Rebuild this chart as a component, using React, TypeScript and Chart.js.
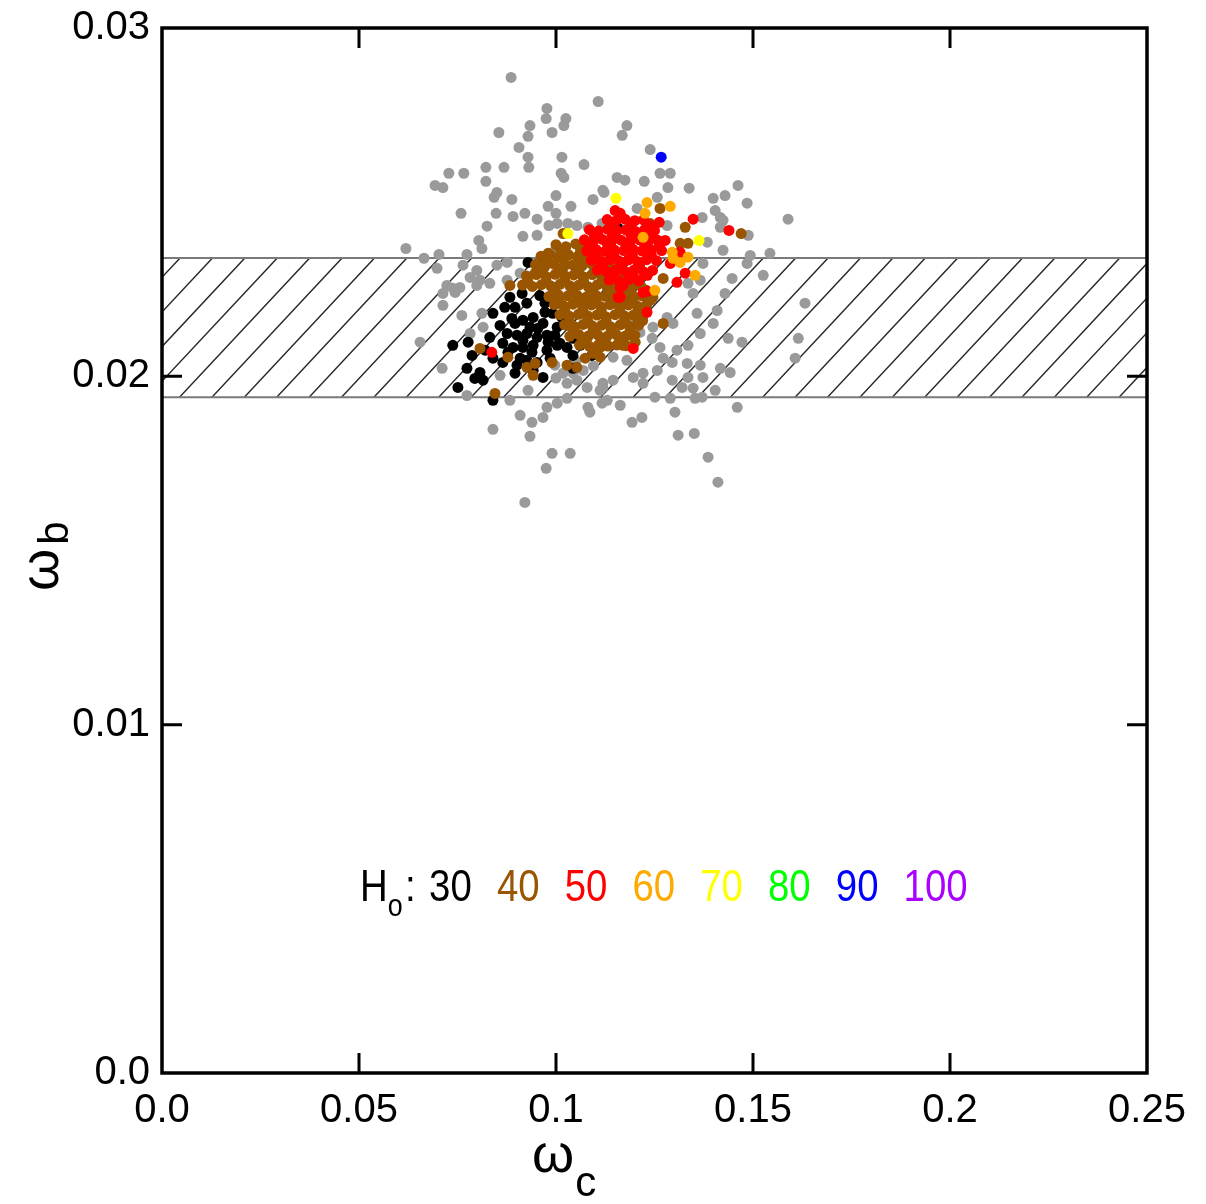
import React, { useEffect, useRef } from "react";
import { Chart, registerables } from "chart.js";

Chart.register(...registerables);

// ---------- data (ωc, ωb) ----------
const xTickValues = [0, 0.05, 0.1, 0.15, 0.2, 0.25];
const xTickLabels = ["0.0", "0.05", "0.1", "0.15", "0.2", "0.25"];
const yTickValues = [0, 0.01, 0.02, 0.03];
const yTickLabels = ["0.0", "0.01", "0.02", "0.03"];

const bandLow = 0.0194;
const bandHigh = 0.0234;

const legendValues = ["30", "40", "50", "60", "70", "80", "90", "100"];
const legendColors = ["#000000", "#995500", "#ff0000", "#ffaa00", "#ffff00", "#00ff00", "#0000ff", "#aa00ff"];

const otherModels: number[][] = [
  [0.0886,0.02858],[0.1107,0.02789],[0.0977,0.02769],[0.0975,0.02740],[0.1025,0.02740],[0.1020,0.02720],[0.0990,0.02700],[0.0934,0.02720],[0.0855,0.02700],[0.0929,0.02689],[0.0906,0.02657],[0.0929,0.02629],[0.0931,0.02600],[0.1015,0.02629],[0.1071,0.02608],[0.0822,0.02600],[0.0868,0.02600],[0.1013,0.02583],[0.1020,0.02571],[0.0728,0.02583],[0.0766,0.02583],[0.0693,0.02548],[0.0713,0.02542],[0.0822,0.02560],[0.0850,0.02528],[0.0843,0.02514],[0.0888,0.02508],[0.1000,0.02519],[0.1094,0.02508],[0.1122,0.02528],[0.0980,0.02488],[0.1038,0.02488],[0.0759,0.02468],[0.0848,0.02468],[0.0891,0.02459],[0.0921,0.02468],[0.0952,0.02451],[0.1000,0.02468],[0.0982,0.02433],[0.1003,0.02439],[0.1030,0.02439],[0.1053,0.02433],[0.1081,0.02428],[0.1117,0.02439],[0.0825,0.02431],[0.0916,0.02402],[0.0952,0.02405],[0.0804,0.02390],[0.0812,0.02367],[0.0619,0.02367],[0.0665,0.02339],[0.0703,0.02350],[0.0774,0.02350],[0.0698,0.02310],[0.0764,0.02319],[0.0799,0.02304],[0.0850,0.02319],[0.0876,0.02327],[0.0807,0.02276],[0.0782,0.02284],[0.0909,0.02296],[0.0967,0.02324],[0.0992,0.02356],[0.0876,0.02276],[0.0756,0.02255],
  [0.0713,0.02238],[0.0744,0.02241],[0.0713,0.02204],[0.0761,0.02175],[0.0812,0.02181],[0.0815,0.02141],[0.0655,0.02098],[0.0711,0.02023],[0.0782,0.02123],[0.0858,0.02003],[0.0883,0.01931],[0.0909,0.01888],[0.0939,0.01868],[0.0967,0.01882],[0.0840,0.01848],[0.0934,0.01828],[0.0990,0.01779],[0.1036,0.01779],[0.0975,0.01736],[0.0921,0.01638],[0.0977,0.01911],[0.1003,0.01923],[0.1028,0.01937],[0.1081,0.01911],[0.1086,0.01897],[0.1117,0.01923],[0.1028,0.01980],[0.1053,0.01989],[0.1079,0.01968],[0.1112,0.01960],[0.0774,0.01945],[0.0929,0.01960],[0.0738,0.02253],[0.0832,0.02267],[0.0799,0.02261],[0.0723,0.02261],[0.1018,0.02009],[0.1043,0.02009],[0.1069,0.02017],[0.0997,0.02032],[0.1119,0.01980],
  [0.1358,0.02181],[0.1409,0.02189],[0.1429,0.02238],[0.1348,0.02238],[0.1335,0.02267],[0.1399,0.02152],[0.1366,0.02123],[0.1437,0.02109],[0.1472,0.02098],[0.1335,0.02089],[0.1307,0.02075],[0.1272,0.02052],[0.1295,0.02040],[0.1333,0.02037],[0.1366,0.02032],[0.1417,0.02023],[0.1442,0.02011],[0.1373,0.01997],[0.1335,0.01997],[0.1295,0.01989],[0.1257,0.02017],[0.1221,0.02009],[0.1196,0.01997],[0.1145,0.01989],[0.1221,0.01980],[0.1320,0.01968],[0.1348,0.01966],[0.1404,0.01960],[0.1251,0.01940],[0.1290,0.01937],[0.1353,0.01937],[0.1371,0.01940],[0.1130,0.01931],[0.1163,0.01917],[0.1302,0.01897],[0.1460,0.01911],[0.1218,0.01882],[0.1193,0.01868],[0.1310,0.01831],[0.1351,0.01836],[0.1386,0.01768],[0.1411,0.01696],[0.1632,0.02210],[0.1615,0.02109],[0.1607,0.02052],[0.1246,0.02141],[0.1282,0.02169],[0.1297,0.02152],[0.1244,0.02109],[0.1264,0.02083],[0.1213,0.02126],[0.1145,0.02055],[0.1180,0.02046],[0.1119,0.01968],
  [0.1180,0.02720],[0.1168,0.02692],[0.1239,0.02651],[0.1264,0.02583],[0.1290,0.02583],[0.1155,0.02571],[0.1175,0.02563],[0.1224,0.02560],[0.1284,0.02542],[0.1338,0.02540],[0.1462,0.02548],[0.1119,0.02534],[0.1257,0.02514],[0.1399,0.02511],[0.1429,0.02519],[0.1485,0.02497],[0.1206,0.02482],[0.1404,0.02476],[0.1417,0.02456],[0.1371,0.02456],[0.1282,0.02433],[0.1417,0.02428],[0.1488,0.02405],[0.1589,0.02451],[0.1384,0.02385],[0.1424,0.02362],[0.1493,0.02347],[0.1543,0.02353],[0.1485,0.02324],[0.1526,0.02290],[0.1447,0.02281],[0.1373,0.02324],[0.1366,0.02276],[0.1424,0.02448],
  [0.1140,0.02140],[0.1160,0.02110],[0.1190,0.02160],[0.1050,0.02045],[0.1000,0.01995],[0.1095,0.02030]
];

const h0_30: number[][] = [
  [0.1064,0.02367],[0.0929,0.02327],[0.0883,0.02227],[0.0870,0.02198],[0.0896,0.02198],[0.0840,0.02181],[0.0926,0.02210],[0.0914,0.02238],[0.0959,0.02232],[0.1003,0.02210],[0.0896,0.02152],[0.0916,0.02161],[0.0942,0.02169],[0.0967,0.02152],[0.1003,0.02141],[0.0876,0.02123],[0.0901,0.02118],[0.0926,0.02123],[0.0952,0.02112],[0.0977,0.02118],[0.1010,0.02095],[0.1043,0.02109],[0.0738,0.02089],[0.0777,0.02098],[0.0787,0.02060],[0.0840,0.02052],[0.0865,0.02095],[0.0891,0.02083],[0.0916,0.02083],[0.0942,0.02089],[0.0977,0.02075],[0.1003,0.02089],[0.1028,0.02083],[0.0865,0.02040],[0.0901,0.02032],[0.0926,0.02046],[0.0952,0.02040],[0.0985,0.02052],[0.1043,0.02060],[0.1091,0.02060],[0.0774,0.02023],[0.0807,0.02011],[0.0794,0.01994],[0.0815,0.01989],[0.0751,0.01968],[0.0840,0.01931],[0.0942,0.02017],[0.0967,0.01997],[0.1043,0.02023],[0.0916,0.02103],[0.0934,0.02141],[0.0992,0.02181],[0.0972,0.02184],[0.0888,0.02166],[0.0954,0.02138],[0.0980,0.02098],[0.0878,0.02069],[0.0939,0.02069],[0.0909,0.02052],[0.0972,0.02210],[0.0858,0.02146],[0.1015,0.02169],[0.0832,0.02112],[0.0820,0.02075],[0.0997,0.02118],[0.1061,0.02089],[0.0896,0.02009],[0.1158,0.02425]
];

const h0_40: number[][] = [
  [0.1018,0.02410],[0.0883,0.02261],[0.0947,0.02296],[0.0959,0.02319],[0.0980,0.02353],[0.1208,0.02155],[0.1183,0.02118],[0.1201,0.02098],[0.1170,0.02089],[0.1117,0.02089],[0.1112,0.02055],[0.1079,0.02109],[0.1041,0.02138],[0.1028,0.02032],[0.1053,0.02026],[0.1272,0.02152],[0.1272,0.02281],[0.0990,0.02040],[0.0947,0.02037],[0.0926,0.02026],[0.0845,0.01951],[0.0807,0.02080],[0.0878,0.02055],[0.0942,0.02003],[0.1074,0.02052],[0.1094,0.02066],[0.1246,0.02227],[0.1130,0.02089],[0.1264,0.02482],[0.1328,0.02428],[0.1470,0.02410],[0.1315,0.02382],[0.1335,0.02382],[0.1239,0.02439],[0.1112,0.02083],
  [0.1000,0.02378],[0.1025,0.02372],[0.1050,0.02380],[0.1072,0.02370],[0.1090,0.02376],
  [0.0962,0.02345],[0.0985,0.02350],[0.1008,0.02342],[0.1032,0.02349],[0.1055,0.02344],[0.1078,0.02351],[0.1102,0.02346],
  [0.0948,0.02321],[0.0972,0.02316],[0.0995,0.02322],[0.1020,0.02315],[0.1043,0.02320],[0.1066,0.02317],[0.1090,0.02323],[0.1113,0.02318],[0.1135,0.02320],
  [0.0925,0.02288],[0.0950,0.02292],[0.0974,0.02287],[0.0998,0.02293],[0.1022,0.02289],[0.1045,0.02291],[0.1069,0.02286],[0.1092,0.02292],[0.1116,0.02288],[0.1140,0.02291],[0.1160,0.02287],
  [0.0915,0.02262],[0.0940,0.02258],[0.0963,0.02263],[0.0987,0.02259],[0.1010,0.02264],[0.1035,0.02260],[0.1058,0.02262],[0.1082,0.02257],[0.1105,0.02263],[0.1128,0.02259],[0.1152,0.02262],[0.1175,0.02258],[0.1198,0.02263],[0.1215,0.02260],
  [0.0982,0.02229],[0.1006,0.02234],[0.1030,0.02231],[0.1053,0.02233],[0.1077,0.02228],[0.1100,0.02234],[0.1124,0.02230],[0.1147,0.02235],[0.1170,0.02229],[0.1194,0.02233],[0.1218,0.02231],[0.1238,0.02234],
  [0.0996,0.02206],[0.1020,0.02202],[0.1043,0.02207],[0.1067,0.02203],[0.1090,0.02205],[0.1114,0.02200],[0.1137,0.02206],[0.1160,0.02202],[0.1184,0.02205],[0.1207,0.02201],[0.1230,0.02206],
  [0.1010,0.02177],[0.1033,0.02173],[0.1057,0.02178],[0.1080,0.02174],[0.1104,0.02176],[0.1127,0.02171],[0.1150,0.02177],[0.1174,0.02173],[0.1197,0.02176],[0.1220,0.02172],
  [0.1022,0.02148],[0.1045,0.02144],[0.1069,0.02149],[0.1092,0.02145],[0.1116,0.02147],[0.1139,0.02142],[0.1163,0.02148],[0.1186,0.02144],[0.1210,0.02147],
  [0.1035,0.02115],[0.1058,0.02120],[0.1082,0.02116],[0.1106,0.02119],[0.1129,0.02114],[0.1153,0.02120],[0.1176,0.02116],[0.1200,0.02118],
  [0.1060,0.02090],[0.1085,0.02086],[0.1108,0.02091],[0.1132,0.02087],[0.1155,0.02090],[0.1178,0.02088],
  [0.1012,0.02362],[0.1062,0.02360],[0.0975,0.02333],[0.1020,0.02334],[0.1068,0.02332],[0.1112,0.02333],[0.0960,0.02304],[0.1010,0.02305],[0.1057,0.02303],[0.1104,0.02302],[0.1150,0.02304],[0.0928,0.02275],[0.0975,0.02273],[0.1022,0.02276],[0.1070,0.02274],[0.1117,0.02275],[0.1163,0.02273],[0.1205,0.02276],[0.0995,0.02246],[0.1042,0.02248],[0.1088,0.02245],[0.1135,0.02247],[0.1182,0.02246],[0.1228,0.02248],[0.1008,0.02218],[0.1055,0.02219],[0.1102,0.02217],[0.1148,0.02219],[0.1195,0.02218],[0.1240,0.02219],[0.1022,0.02190],[0.1068,0.02189],[0.1115,0.02191],[0.1162,0.02190],[0.1208,0.02188],[0.1034,0.02161],[0.1080,0.02162],[0.1127,0.02160],[0.1174,0.02161],[0.1220,0.02160],[0.1047,0.02132],[0.1094,0.02131],[0.1140,0.02133],[0.1188,0.02131],[0.1072,0.02103],[0.1118,0.02104],[0.1165,0.02102]
];

const h0_50: number[][] = [
  [0.1150,0.02476],[0.1163,0.02468],[0.1348,0.02451],[0.1439,0.02419],[0.1262,0.02442],[0.1277,0.02390],[0.1315,0.02356],[0.1290,0.02324],[0.1328,0.02296],[0.1307,0.02270],[0.1163,0.02255],[0.1221,0.02241],[0.1231,0.02184],[0.1196,0.02080],[0.0837,0.02069],[0.1158,0.02227],[0.1170,0.02261],[0.1231,0.02244],[0.1163,0.02227],
  [0.1130,0.02450],[0.1152,0.02446],[0.1175,0.02451],[0.1200,0.02447],[0.1222,0.02449],
  [0.1085,0.02421],[0.1108,0.02417],[0.1132,0.02422],[0.1155,0.02418],[0.1178,0.02420],[0.1202,0.02416],[0.1225,0.02421],[0.1250,0.02418],
  [0.1072,0.02392],[0.1095,0.02388],[0.1118,0.02393],[0.1142,0.02389],[0.1165,0.02391],[0.1188,0.02387],[0.1212,0.02392],[0.1235,0.02388],[0.1258,0.02391],
  [0.1078,0.02360],[0.1102,0.02364],[0.1125,0.02359],[0.1148,0.02363],[0.1172,0.02361],[0.1195,0.02365],[0.1218,0.02360],[0.1242,0.02363],[0.1268,0.02361],
  [0.1090,0.02334],[0.1113,0.02330],[0.1137,0.02335],[0.1160,0.02331],[0.1183,0.02334],[0.1207,0.02329],[0.1230,0.02335],[0.1255,0.02332],
  [0.1105,0.02305],[0.1128,0.02301],[0.1152,0.02306],[0.1175,0.02302],[0.1198,0.02305],[0.1222,0.02300],[0.1245,0.02304],
  [0.1135,0.02277],[0.1160,0.02273],[0.1185,0.02278],[0.1210,0.02274],
  [0.1142,0.02434],[0.1190,0.02433],[0.1236,0.02435],[0.1097,0.02405],[0.1143,0.02404],[0.1190,0.02406],[0.1237,0.02404],[0.1085,0.02376],[0.1131,0.02377],[0.1178,0.02375],[0.1225,0.02377],[0.1262,0.02376],[0.1100,0.02347],[0.1147,0.02348],[0.1194,0.02346],[0.1242,0.02348],[0.1118,0.02318],[0.1165,0.02319],[0.1212,0.02317],[0.1148,0.02290],[0.1196,0.02289],[0.1232,0.02290]
];

const h0_60: number[][] = [
  [0.1231,0.02499],[0.1226,0.02468],[0.1290,0.02488],[0.1221,0.02399],[0.1295,0.02356],[0.1315,0.02327],[0.1353,0.02290],[0.1335,0.02342],[0.1251,0.02247],[0.1297,0.02339]
];

const h0_70: number[][] = [
  [0.1030,0.02410],[0.1152,0.02511],[0.1363,0.02390]
];

const h0_90: number[][] = [
  [0.1267,0.02629]
];

const FONT = "'Liberation Sans', Arial, Helvetica, sans-serif";

const toPoints = (arr: number[][]) => arr.map(([x, y]) => ({ x, y }));

const overlayPlugin = {
  id: "overlay",
  beforeDatasetsDraw(chart: any) {
    const { ctx, chartArea: a, scales } = chart;
    const y = scales.y;
    const yTop = y.getPixelForValue(bandHigh);
    const yBot = y.getPixelForValue(bandLow);
    ctx.save();
    ctx.beginPath();
    ctx.rect(a.left, yTop, a.right - a.left, yBot - yTop);
    ctx.clip();
    ctx.strokeStyle = "#2a2a2a";
    ctx.lineWidth = 1.4;
    const h = yBot - yTop;
    const run = h / 1.07;
    const spacing = 32.4;
    const phase = 17.5;
    const start = a.left + phase - Math.ceil((run + phase) / spacing) * spacing;
    ctx.beginPath();
    for (let xb = start; xb < a.right + spacing; xb += spacing) {
      ctx.moveTo(xb, yBot);
      ctx.lineTo(xb + run, yTop);
    }
    ctx.stroke();
    ctx.restore();

    ctx.save();
    ctx.strokeStyle = "#7a7a7a";
    ctx.lineWidth = 2;
    ctx.beginPath();
    ctx.moveTo(a.left, yTop);
    ctx.lineTo(a.right, yTop);
    ctx.moveTo(a.left, yBot);
    ctx.lineTo(a.right, yBot);
    ctx.stroke();
    ctx.restore();
  },
  afterDraw(chart: any) {
    const { ctx, chartArea: a, scales } = chart;
    const xs = scales.x;
    const ys = scales.y;
    ctx.save();
    // frame
    ctx.strokeStyle = "#000";
    ctx.lineWidth = 3.5;
    ctx.strokeRect(a.left, a.top, a.right - a.left, a.bottom - a.top);
    // inward ticks
    const tl = 20;
    ctx.lineWidth = 3;
    ctx.beginPath();
    xTickValues.forEach((v, i) => {
      if (i === 0 || i === xTickValues.length - 1) return;
      const px = xs.getPixelForValue(v);
      ctx.moveTo(px, a.bottom);
      ctx.lineTo(px, a.bottom - tl);
      ctx.moveTo(px, a.top);
      ctx.lineTo(px, a.top + tl);
    });
    yTickValues.forEach((v, i) => {
      if (i === 0 || i === yTickValues.length - 1) return;
      const py = ys.getPixelForValue(v);
      ctx.moveTo(a.left, py);
      ctx.lineTo(a.left + tl, py);
      ctx.moveTo(a.right, py);
      ctx.lineTo(a.right - tl, py);
    });
    ctx.stroke();

    // legend
    ctx.textBaseline = "alphabetic";
    ctx.textAlign = "left";
    const lx = a.left + 198;
    const ly = a.top + 873;
    ctx.save();
    ctx.translate(lx, ly);
    ctx.scale(0.96, 1.12);
    ctx.fillStyle = "#000";
    ctx.font = `40px ${FONT}`;
    ctx.fillText("H", 0, 0);
    ctx.font = `28px ${FONT}`;
    ctx.fillText("o", 29, 13);
    ctx.font = `40px ${FONT}`;
    ctx.fillText(":", 47, 0);
    legendValues.forEach((t, i) => {
      ctx.fillStyle = legendColors[i];
      ctx.fillText(t, 72 + i * 70.6, 0);
    });
    ctx.restore();

    // x title ωc
    ctx.fillStyle = "#000";
    ctx.font = `54px ${FONT}`;
    const wW = ctx.measureText("ω").width;
    const tx = a.left + 370;
    ctx.fillText("ω", tx, 1172);
    ctx.font = `42px ${FONT}`;
    ctx.fillText("c", tx + wW + 1, 1196);

    // y title ωb
    ctx.save();
    ctx.translate(58, 591);
    ctx.rotate(-Math.PI / 2);
    ctx.font = `54px ${FONT}`;
    ctx.fillText("ω", 0, 0);
    ctx.font = `42px ${FONT}`;
    ctx.fillText("b", wW + 4, 10);
    ctx.restore();

    ctx.restore();
  },
};

export default function App() {
  const ref = useRef<HTMLCanvasElement | null>(null);
  useEffect(() => {
    if (!ref.current) return;
    const mk = (label: string, data: number[][], color: string, order: number) => ({
      label,
      data: toPoints(data),
      backgroundColor: color,
      borderWidth: 0,
      pointRadius: 5.5,
      pointHoverRadius: 5.5,
      order,
    });
    const chart = new Chart(ref.current, {
      type: "scatter",
      data: {
        datasets: [
          mk("other", otherModels, "#9a9a9a", 7),
          mk("30", h0_30, legendColors[0], 6),
          mk("40", h0_40, legendColors[1], 5),
          mk("50", h0_50, legendColors[2], 4),
          mk("60", h0_60, legendColors[3], 3),
          mk("70", h0_70, legendColors[4], 2),
          mk("90", h0_90, legendColors[6], 1),
        ],
      },
      options: {
        animation: false,
        responsive: false,
        devicePixelRatio: 1,
        layout: { padding: { left: 0, right: 59, top: 28, bottom: 0 } },
        plugins: { legend: { display: false }, tooltip: { enabled: false } },
        scales: {
          x: {
            type: "linear",
            min: 0,
            max: 0.25,
            afterBuildTicks: (s: any) => {
              s.ticks = xTickValues.map((v) => ({ value: v }));
            },
            afterFit: (s: any) => {
              s.height = 131;
            },
            ticks: {
              callback: (_v: any, i: number) => xTickLabels[i],
              font: { family: FONT, size: 40 },
              color: "#000",
              padding: 14,
              maxRotation: 0,
              autoSkip: false,
            },
            grid: { display: false, drawTicks: false },
            border: { display: false },
          },
          y: {
            type: "linear",
            min: 0,
            max: 0.03,
            afterBuildTicks: (s: any) => {
              s.ticks = yTickValues.map((v) => ({ value: v }));
            },
            afterFit: (s: any) => {
              s.width = 162;
              s.paddingTop = 0;
              s.paddingBottom = 0;
            },
            ticks: {
              callback: (_v: any, i: number) => yTickLabels[i],
              font: { family: FONT, size: 40, lineHeight: 0.6 },
              color: "#000",
              padding: 12,
              autoSkip: false,
            },
            grid: { display: false, drawTicks: false },
            border: { display: false },
          },
        },
      },
      plugins: [overlayPlugin],
    } as any);
    return () => chart.destroy();
  }, []);
  return (
    <div style={{ position: "absolute", left: 0, top: 0, width: 1206, height: 1204, background: "#fff" }}>
      <canvas ref={ref} width={1206} height={1204} style={{ display: "block" }} />
    </div>
  );
}
